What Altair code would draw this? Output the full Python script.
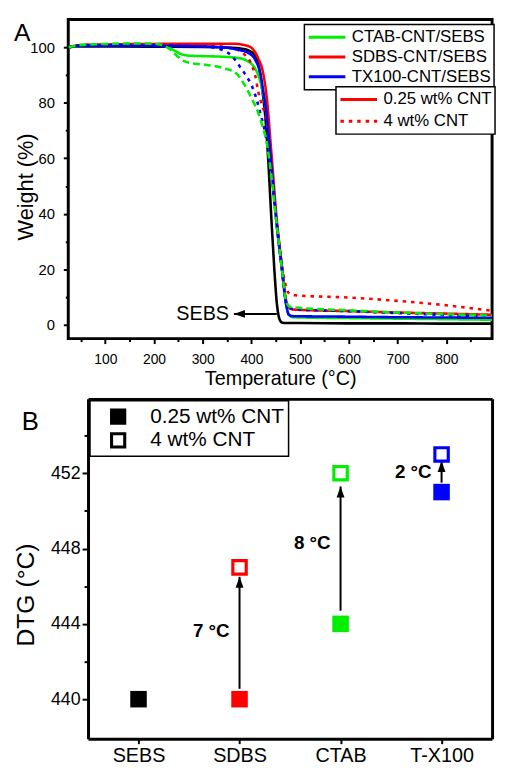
import altair as alt
import pandas as pd

FONT = "Liberation Sans"

# ---------------- Panel A: TGA curves (Temperature °C, Weight %) ----------------
sebs_T = [25, 40, 100, 200, 300, 350, 380, 395, 405, 412, 418, 422, 428, 435, 441, 447, 452, 456, 460, 464, 470, 500, 600, 700, 800, 895]
sebs_W = [100.0, 100.3, 100.3, 100.2, 100.1, 99.9, 99.5, 98.8, 97.5, 95.2, 90.5, 85.0, 76.0, 58.0, 38.0, 20.0, 8.0, 3.0, 1.2, 0.7, 0.6, 0.6, 0.5, 0.5, 0.4, 0.4]

ctab1_T = [25, 50, 100, 150, 200, 225, 240, 255, 270, 300, 340, 370, 390, 405, 415, 422, 431, 440, 452, 462, 471, 477, 485, 600, 700, 800, 895]
ctab1_W = [100.0, 100.6, 100.8, 100.9, 100.8, 100.4, 99.0, 97.6, 97.0, 96.8, 96.6, 96.2, 95.2, 93.0, 89.5, 85.0, 76.0, 59.0, 36.0, 21.0, 8.0, 3.5, 2.7, 2.4, 2.2, 2.0, 1.8]

ctab4_T = [25, 50, 100, 150, 200, 220, 235, 248, 262, 274, 300, 342, 368, 384, 402, 414, 422, 431, 440, 452, 462, 471, 478, 490, 600, 700, 800, 895]
ctab4_W = [100.0, 100.8, 101.2, 101.4, 101.3, 100.6, 99.0, 96.8, 95.0, 94.3, 93.8, 92.5, 90.7, 87.0, 81.0, 76.4, 72.0, 66.0, 55.0, 36.0, 21.0, 8.5, 6.6, 6.2, 5.2, 4.4, 3.8, 3.3]

sdbs1_T = [25, 50, 100, 200, 300, 360, 390, 402, 414, 424, 432, 440, 452, 462, 471, 477, 485, 600, 700, 800, 895]
sdbs1_W = [100.0, 100.8, 101.0, 101.2, 101.3, 101.3, 100.6, 99.5, 96.0, 90.7, 81.0, 64.0, 38.0, 22.0, 9.0, 6.2, 5.5, 4.9, 4.4, 4.0, 3.6]

sdbs4_T = [25, 50, 100, 200, 300, 362, 385, 402, 408, 414, 420, 431, 440, 452, 462, 470, 476, 482, 490, 600, 700, 800, 895]
sdbs4_W = [100.0, 100.8, 101.0, 101.1, 100.8, 99.6, 97.5, 93.0, 89.6, 84.0, 80.0, 73.0, 58.0, 37.0, 22.0, 14.5, 11.5, 10.8, 10.6, 9.8, 8.6, 7.0, 5.0]

tx1_T = [25, 50, 100, 200, 300, 340, 370, 394, 408, 418, 424, 431, 440, 452, 462, 471, 477, 485, 600, 700, 800, 895]
tx1_W = [100.0, 100.6, 100.6, 100.5, 100.3, 100.0, 99.2, 97.9, 95.4, 90.7, 84.5, 76.0, 59.0, 36.0, 21.0, 7.5, 3.6, 3.1, 2.9, 2.7, 2.6, 2.5]

tx4_T = [25, 50, 100, 200, 300, 341, 360, 374, 390, 401, 411, 418, 426, 440, 452, 462, 471, 478, 490, 600, 700, 800, 895]
tx4_W = [100.0, 100.7, 100.8, 100.7, 100.3, 99.0, 96.8, 93.6, 89.5, 86.0, 81.0, 76.4, 71.0, 56.0, 36.0, 21.0, 8.0, 6.0, 5.6, 4.9, 4.2, 3.5, 2.8]

series_names = ["CTAB-CNT/SEBS", "SDBS-CNT/SEBS", "TX100-CNT/SEBS"]
series_colors = ["#00ee00", "#ff0000", "#0000ff"]
loadings = ["0.25 wt% CNT", "4 wt% CNT"]

# SEBS annotation (arrow pointing left to the SEBS curve)
sebs_label = ["SEBS"]
sebs_arrow_start_T = [452]
sebs_arrow_tip_T = [364]
sebs_arrow_W = [3.9]
sebs_text_T = [354]

WIDTH = 429


def frame(Ts, Ws, series, loading):
    return pd.DataFrame({"T": Ts, "W": Ws, "series": series, "loading": loading})


df_sebs = frame(sebs_T, sebs_W, "SEBS", "none")
df_main = pd.concat([
    frame(ctab1_T, ctab1_W, series_names[0], loadings[0]),
    frame(sdbs1_T, sdbs1_W, series_names[1], loadings[0]),
    frame(sdbs4_T, sdbs4_W, series_names[1], loadings[1]),
    frame(tx1_T, tx1_W, series_names[2], loadings[0]),
    frame(tx4_T, tx4_W, series_names[2], loadings[1]),
], ignore_index=True)
df_ctab4 = frame(ctab4_T, ctab4_W, series_names[0], loadings[1])

xA = alt.X("T:Q", scale=alt.Scale(domain=[24, 894], nice=False, zero=False),
           axis=alt.Axis(values=list(range(50, 900, 50)),
                         labelExpr="datum.value % 100 === 0 ? datum.label : ''",
                         tickSize={"condition": {"test": "datum.value % 100 === 0", "value": 5}, "value": 3},
                         labelFontSize=14, labelPadding=9, labelOverlap=False, labelFlush=False,
                         title="Temperature (°C)", titleFontSize=20, titlePadding=2))
yA = alt.Y("W:Q", scale=alt.Scale(domain=[-5, 110], nice=False, zero=False),
           axis=alt.Axis(values=list(range(0, 101, 10)),
                         labelExpr="datum.value % 20 === 0 ? datum.label : ''",
                         tickSize={"condition": {"test": "datum.value % 20 === 0", "value": 5}, "value": 3},
                         labelFontSize=15, labelPadding=9, labelOverlap=False,
                         title="Weight (%)", titleFontSize=22, titleX=-31, titleY=169))

color_scale = alt.Scale(domain=series_names, range=series_colors)
color_legend = alt.Legend(title=None, orient="none", legendX=239, legendY=5,
                          symbolType="stroke", symbolSize=1369, symbolStrokeWidth=3,
                          labelFontSize=17, labelFont=FONT, labelOffset=5, labelLimit=400,
                          padding=3, strokeColor="black", fillColor="white",
                          clipHeight=20, rowPadding=0)
dash_legend = alt.Legend(title=None, orient="none", legendX=271, legendY=68,
                         symbolType="stroke", symbolSize=1369, symbolStrokeWidth=3,
                         symbolStrokeColor="#ff0000",
                         labelFontSize=17, labelFont=FONT, labelOffset=5, labelLimit=400,
                         padding=3, strokeColor="black", fillColor="white",
                         clipHeight=20, rowPadding=2)

line_sebs = alt.Chart(df_sebs).mark_line(color="black", strokeWidth=2.6, clip=True, interpolate="monotone").encode(
    x=xA, y=yA)

line_main = alt.Chart(df_main).mark_line(strokeWidth=2.6, clip=True, interpolate="monotone").encode(
    x=xA, y=yA,
    color=alt.Color("series:N", scale=color_scale, legend=color_legend),
    strokeDash=alt.StrokeDash("loading:N",
                              scale=alt.Scale(domain=loadings, range=[[1, 0], [3.5, 5]]),
                              legend=dash_legend),
)

line_ctab4 = alt.Chart(df_ctab4).mark_line(strokeWidth=2.6, clip=True, interpolate="monotone",
                                           strokeDash=[7, 4]).encode(
    x=xA, y=yA,
    color=alt.Color("series:N", scale=color_scale, legend=color_legend),
)

rule_df = pd.DataFrame({"T": sebs_arrow_start_T, "T2": sebs_arrow_tip_T, "W": sebs_arrow_W})
head_df = pd.DataFrame({"T": sebs_arrow_tip_T, "W": sebs_arrow_W})
text_df = pd.DataFrame({"T": sebs_text_T, "W": sebs_arrow_W, "label": sebs_label})

sebs_rule = alt.Chart(rule_df).mark_rule(color="black", strokeWidth=2).encode(x=xA, x2="T2:Q", y=yA)
arrow_left = "M0,0L1.4,-0.5L1.4,0.5Z"
sebs_head = alt.Chart(head_df).mark_point(shape=arrow_left, filled=True, size=256, color="black",
                                          opacity=1).encode(x=xA, y=yA)
sebs_text = alt.Chart(text_df).mark_text(align="right", baseline="middle", fontSize=20, font=FONT,
                                         color="black").encode(x=xA, y=yA, text="label:N")

letterA = alt.Chart(pd.DataFrame({"t": ["A"]})).mark_text(
    align="left", baseline="top", fontSize=25, font=FONT, color="black").encode(
    x=alt.value(-55), y=alt.value(2), text="t:N")

chartA = alt.layer(line_sebs, line_main, line_ctab4, sebs_rule, sebs_head, sebs_text, letterA).properties(
    width=WIDTH, height=323, view=alt.ViewBackground(stroke="black", strokeWidth=3))

# ---------------- Panel B: DTG peak temperatures ----------------
cats = ["SEBS", "SDBS", "CTAB", "T-X100"]
cat_colors = ["#000000", "#ff0000", "#00ee00", "#0000ff"]
dtg_low_cat = ["SEBS", "SDBS", "CTAB", "T-X100"]
dtg_low = [440, 440, 444, 451]
dtg_high_cat = ["SDBS", "CTAB", "T-X100"]
dtg_high = [447, 452, 453]

arrow_cat = ["SDBS", "CTAB", "T-X100"]
arrow_from = [440.55, 444.7, 451.5]
arrow_to = [446.5, 451.3, 452.65]
delta_text = ["7 °C", "8 °C", "2 °C"]
delta_y = [443.6, 448.3, 452.05]

dfB = pd.concat([
    pd.DataFrame({"cat": dtg_low_cat, "dtg": dtg_low, "loading": loadings[0]}),
    pd.DataFrame({"cat": dtg_high_cat, "dtg": dtg_high, "loading": loadings[1]}),
], ignore_index=True)
arr_rule_df = pd.DataFrame({"cat": arrow_cat, "dtg": arrow_from, "dtg2": arrow_to})
arr_head_df = pd.DataFrame({"cat": arrow_cat, "dtg": arrow_to})
arr_text_df = pd.DataFrame({"cat": arrow_cat, "dtg": delta_y, "lab": delta_text})

B_LEFT = 20  # panel B frame starts this far right of panel A's frame
xB_scale = alt.Scale(type="point", padding=0.5, domain=cats, range=[B_LEFT, WIDTH])
yB_scale = alt.Scale(domain=[437.9, 455.95], nice=False, zero=False)
xB = alt.X("cat:N", sort=cats, scale=xB_scale,
           axis=alt.Axis(title=None, labelAngle=0, labelFontSize=20, tickSize=5, labelPadding=2,
                         domain=True, domainWidth=3, domainColor="black"))
yB = alt.Y("dtg:Q", scale=yB_scale,
           axis=alt.Axis(values=[440, 442, 444, 446, 448, 450, 452, 454],
                         labelExpr="datum.value % 4 === 0 ? datum.label : ''",
                         tickSize={"condition": {"test": "datum.value % 4 === 0", "value": 6}, "value": 4},
                         labelFontSize=18, labelPadding=2, labelOverlap=False,
                         domain=True, domainWidth=3, domainColor="black", offset=-B_LEFT,
                         title="DTG (°C)", titleFontSize=25, titleX=-50, titleY=198))

ring = "M-1,-1H1V1H-1Z M-0.62,-0.62V0.62H0.62V-0.62Z"
points = alt.Chart(dfB).mark_point(filled=True, size=280, opacity=1).encode(
    x=xB, y=yB,
    color=alt.Color("cat:N", scale=alt.Scale(domain=cats, range=cat_colors), legend=None),
    shape=alt.Shape("loading:N", scale=alt.Scale(domain=loadings, range=["square", ring]),
                    legend=alt.Legend(title=None, orient="none", legendX=B_LEFT + 2, legendY=2,
                                      symbolSize=270, symbolFillColor="black", symbolStrokeWidth=0,
                                      labelFontSize=21, labelFont=FONT, labelOffset=22,
                                      symbolOffset=14, padding=4, strokeColor="black",
                                      fillColor="white", clipHeight=24, rowPadding=0)),
)

arrow_up = "M0,0L0.5,1.4L-0.5,1.4Z"
arr_rule = alt.Chart(arr_rule_df).mark_rule(color="black", strokeWidth=2).encode(x=xB, y=yB, y2="dtg2:Q")
arr_head = alt.Chart(arr_head_df).mark_point(shape=arrow_up, filled=True, size=256, color="black",
                                             opacity=1).encode(x=xB, y=yB)
arr_text = alt.Chart(arr_text_df).mark_text(align="right", baseline="middle", dx=-10, fontSize=19,
                                            fontWeight="bold", font=FONT, color="black").encode(
    x=xB, y=yB, text="lab:N")

letterB = alt.Chart(pd.DataFrame({"t": ["B"]})).mark_text(
    align="left", baseline="top", fontSize=26, font=FONT, color="black").encode(
    x=alt.value(B_LEFT - 67), y=alt.value(10), text="t:N")

# top and right edges of the panel-B frame, drawn as axis domain lines
frame_top_right = alt.Chart(dfB).mark_point(opacity=0).encode(
    x=alt.X("cat:N", sort=cats, scale=xB_scale,
            axis=alt.Axis(orient="top", labels=False, ticks=False, title=None,
                          domain=True, domainWidth=3, domainColor="black")),
    y=alt.Y("dtg:Q", scale=yB_scale,
            axis=alt.Axis(orient="right", labels=False, ticks=False, title=None,
                          domain=True, domainWidth=3, domainColor="black")),
)

innerB = alt.layer(arr_rule, arr_head, arr_text, points, letterB)
chartB = alt.layer(innerB, frame_top_right).resolve_axis(x="independent", y="independent").properties(
    width=WIDTH, height=344)

chart = alt.concat(chartA, chartB, columns=1, spacing=9).resolve_scale(
    color="independent", shape="independent", strokeDash="independent"
).resolve_legend(
    color="independent", shape="independent", strokeDash="independent"
).properties(
    padding={"left": 4, "top": 5, "right": 0, "bottom": 0}
).configure_view(
    stroke="transparent", strokeWidth=0
).configure_axis(
    domain=False, grid=False, tickColor="black", tickWidth=2,
    labelColor="black", titleColor="black", labelFont=FONT, titleFont=FONT,
    titleFontWeight="normal"
).configure_legend(
    strokeWidth=1.5
)

chart.save("out.html", embed_options={"renderer": "svg", "actions": False})
